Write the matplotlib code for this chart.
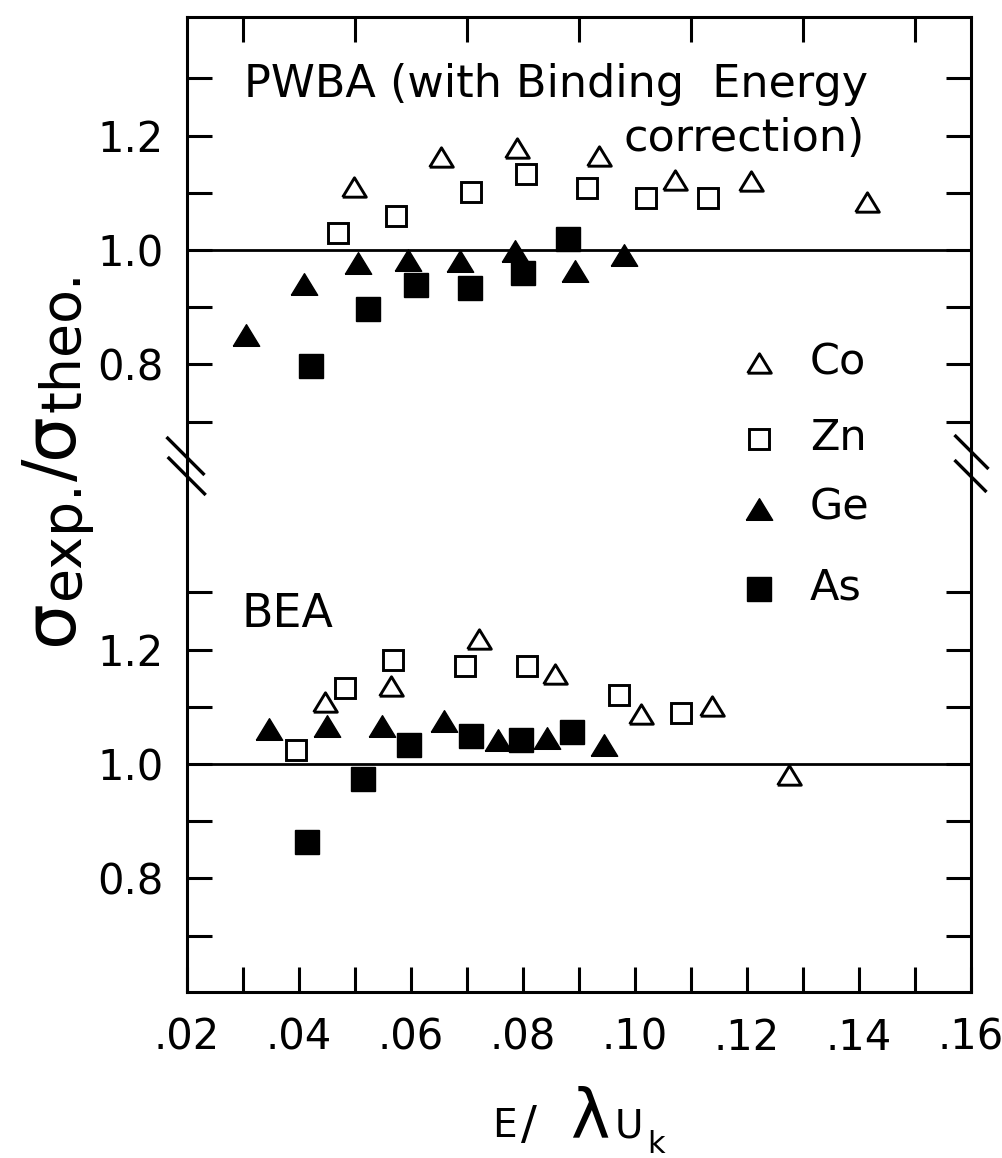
import matplotlib
matplotlib.use('Agg')
import matplotlib.pyplot as plt
from matplotlib.lines import Line2D
import numpy as np

W, H = 1002, 1158
plt.rcParams['font.family'] = ['DejaVu Sans']
plt.rcParams['mathtext.fontset'] = 'dejavusans'

# ---------------- data ----------------
# PWBA (with binding energy correction) -- upper panel
pwba_co_x = [0.0498, 0.0653, 0.0789, 0.0935, 0.1071, 0.1207, 0.1415]
pwba_co_y = [1.110, 1.163, 1.178, 1.164, 1.123, 1.121, 1.084]
pwba_zn_x = [0.0470, 0.0574, 0.0708, 0.0806, 0.0914, 0.1020, 0.1131]
pwba_zn_y = [1.030, 1.060, 1.101, 1.132, 1.109, 1.091, 1.091]
pwba_ge_x = [0.0306, 0.0409, 0.0505, 0.0594, 0.0688, 0.0786, 0.0893, 0.0981]
pwba_ge_y = [0.851, 0.941, 0.977, 0.983, 0.981, 0.999, 0.964, 0.991]
pwba_as_x = [0.0422, 0.0523, 0.0609, 0.0705, 0.0800, 0.0880]
pwba_as_y = [0.798, 0.896, 0.939, 0.933, 0.960, 1.020]

# BEA -- lower panel
bea_co_x = [0.0446, 0.0564, 0.0721, 0.0857, 0.1010, 0.1138, 0.1275]
bea_co_y = [1.108, 1.137, 1.218, 1.158, 1.088, 1.102, 0.980]
bea_zn_x = [0.0395, 0.0482, 0.0568, 0.0697, 0.0808, 0.0971, 0.1082]
bea_zn_y = [1.025, 1.132, 1.181, 1.172, 1.171, 1.120, 1.089]
bea_ge_x = [0.0346, 0.0450, 0.0548, 0.0659, 0.0756, 0.0842, 0.0944]
bea_ge_y = [1.062, 1.067, 1.066, 1.075, 1.042, 1.046, 1.034]
bea_as_x = [0.0415, 0.0515, 0.0597, 0.0707, 0.0796, 0.0888]
bea_as_y = [0.863, 0.973, 1.033, 1.049, 1.042, 1.056]

elements = ['Co', 'Zn', 'Ge', 'As']
x_major = [0.02, 0.04, 0.06, 0.08, 0.10, 0.12, 0.14, 0.16]
x_labels = ['.02', '.04', '.06', '.08', '.10', '.12', '.14', '.16']
x_minor = [0.03, 0.05, 0.07, 0.09, 0.11, 0.13, 0.15]
y_major = [0.8, 1.0, 1.2]
y_labels = ['0.8', '1.0', '1.2']
y_minor = [0.7, 0.9, 1.1, 1.3]

# ---------------- figure ----------------
fig = plt.figure(figsize=(W / 100, H / 100), dpi=100)


def fx(u):
    return u / W


def fy(v):
    return 1 - v / H


L, R = 187, 971
TOP, BRK, BOT = 17, 465, 992
ax_t = fig.add_axes([fx(L), fy(BRK), (R - L) / W, (BRK - TOP) / H])
ax_b = fig.add_axes([fx(L), fy(BOT), (R - L) / W, (BOT - BRK) / H])

tri = [(-1, -0.82), (1, -0.82), (0, 0.82), (-1, -0.82)]
styles = {
    'Co': dict(marker=tri, ms=17, mfc='white', mec='black', mew=2.1),
    'Zn': dict(marker='s', ms=15, mfc='white', mec='black', mew=2.1),
    'Ge': dict(marker=tri, ms=19, mfc='black', mec='black', mew=1.0),
    'As': dict(marker='s', ms=17, mfc='black', mec='black', mew=1.0),
}

for ax in (ax_t, ax_b):
    ax.set_xlim(0.02, 0.16)
    for s in ax.spines.values():
        s.set_linewidth(2.2)
    ax.axhline(1.0, color='black', lw=2.0, zorder=1)
    ax.set_yticks(y_major)
    ax.set_yticklabels(y_labels)
    ax.set_yticks(y_minor, minor=True)
    ax.tick_params(axis='both', which='both', direction='in', length=18,
                   width=2.2, labelsize=30, right=True, pad=17)

ax_t.set_ylim(0.6241, 1.4073)
ax_b.set_ylim(0.6014, 1.5227)

ax_t.spines['bottom'].set_visible(False)
ax_b.spines['top'].set_visible(False)

ax_t.set_xticks(x_minor)
ax_t.tick_params(axis='x', which='both', top=True, bottom=False,
                 labeltop=False, labelbottom=False)
ax_b.set_xticks(x_major)
ax_b.set_xticklabels(x_labels)
ax_b.set_xticks(x_minor, minor=True)
ax_b.tick_params(axis='x', which='both', top=False, bottom=True, pad=18)

series_t = {'Co': (pwba_co_x, pwba_co_y), 'Zn': (pwba_zn_x, pwba_zn_y),
            'Ge': (pwba_ge_x, pwba_ge_y), 'As': (pwba_as_x, pwba_as_y)}
series_b = {'Co': (bea_co_x, bea_co_y), 'Zn': (bea_zn_x, bea_zn_y),
            'Ge': (bea_ge_x, bea_ge_y), 'As': (bea_as_x, bea_as_y)}
for el in elements:
    ax_t.plot(*series_t[el], ls='none', zorder=3, clip_on=False, **styles[el])
    ax_b.plot(*series_b[el], ls='none', zorder=3, clip_on=False, **styles[el])

# axis break marks
for (uc, vc, h) in [(185.5, 456, 19), (186.7, 476, 19), (971.5, 452, 17), (970.5, 476, 16)]:
    fig.add_artist(Line2D([fx(uc - h), fx(uc + h)], [fy(vc - h), fy(vc + h)],
                          color='black', lw=2.4, solid_capstyle='butt'))

# annotations
fig.text(fx(244), fy(97), 'PWBA (with Binding  Energy', fontsize=32, va='baseline', ha='left')
fig.text(fx(624), fy(151), 'correction)', fontsize=32, va='baseline', ha='left')
fig.text(fx(241), fy(627), 'BEA', fontsize=33, va='baseline', ha='left')

# legend
leg_v = [363, 439, 509, 589]
for el, v in zip(elements, leg_v):
    fig.add_artist(Line2D([fx(759)], [fy(v)], ls='none', **styles[el]))
    fig.text(fx(810), fy(v - 1), el, fontsize=31, va='center', ha='left')

# y-axis label built from pieces (large sigma, large subscripts), reading upward
ylab_pieces = [('σ', 52, 0), ('exp.', 40, 7), ('/', 48, 0), ('σ', 52, 0), ('theo.', 40, 7)]
renderer = fig.canvas.get_renderer()
ylab_texts = []
for s, fs, dx in ylab_pieces:
    t = fig.text(0, 0, s, rotation=90, rotation_mode='anchor', ha='left',
                 va='baseline', fontsize=fs)
    ylab_texts.append((t, dx, t.get_window_extent(renderer).height))
total = sum(h for _, _, h in ylab_texts)
v = 458 + total / 2
x_base = 72
for t, dx, h in ylab_texts:
    t.set_position((fx(x_base + dx), fy(v)))
    v -= h

# x-axis label
fig.text(fx(492), fy(1137), 'E', fontsize=28, va='baseline', ha='left')
fig.text(fx(521), fy(1139), '/', fontsize=34, va='baseline', ha='left')
fig.text(fx(570), fy(1137), 'λ', fontsize=48, va='baseline', ha='left')
fig.text(fx(615), fy(1137), 'U', fontsize=28, va='baseline', ha='left')
fig.text(fx(647), fy(1153), 'k', fontsize=22, va='baseline', ha='left')

fig.savefig('out.png', dpi=100)
